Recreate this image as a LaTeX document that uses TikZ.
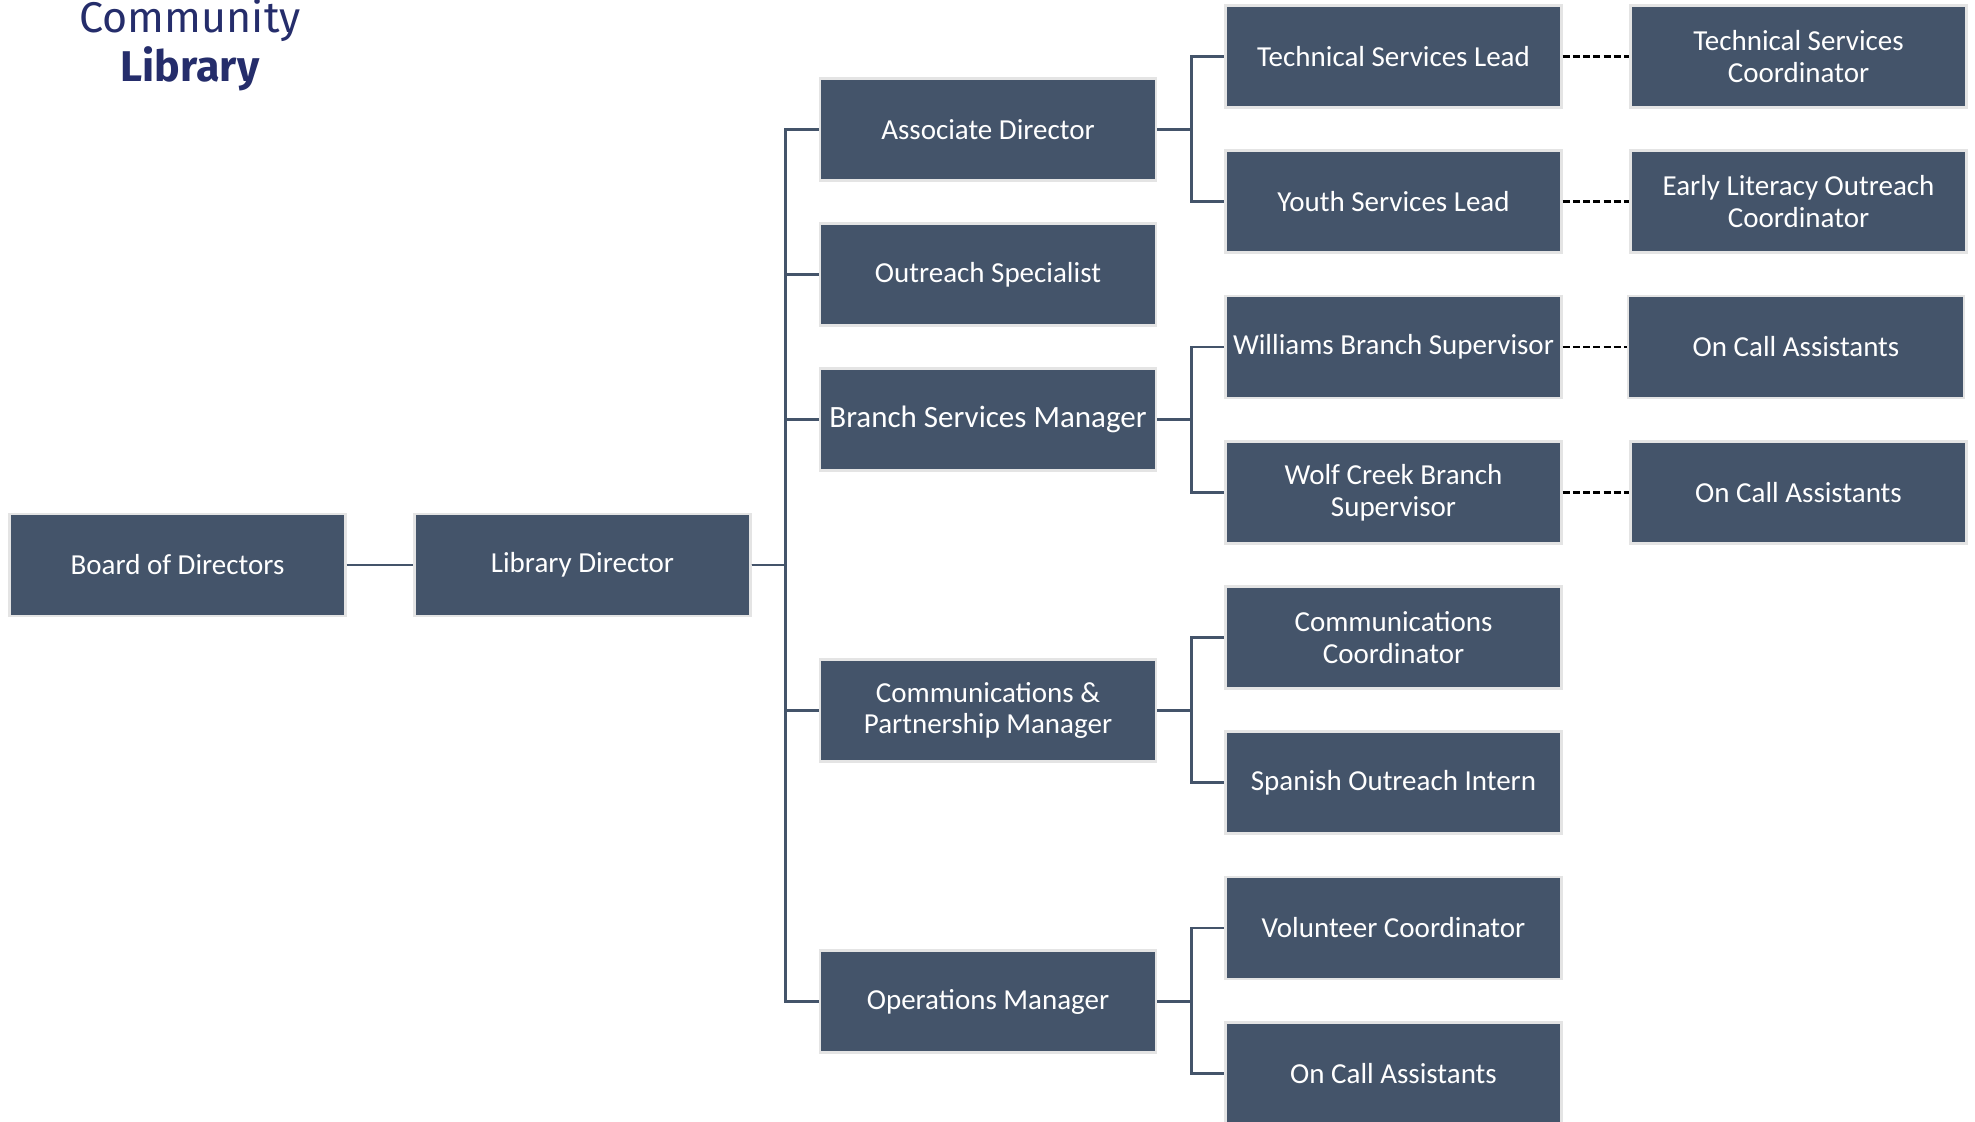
\documentclass[tikz,border=0pt]{standalone}
\usepackage{fontspec}
\setmainfont{Carlito}
\newfontfamily\logofont{Fira Sans}
\usepackage{tikz}
\usetikzlibrary{calc}
\usepackage{xcolor}
\definecolor{boxslate}{HTML}{44546A}
\definecolor{boxrim}{HTML}{E4E4E4}
\definecolor{logonavy}{HTML}{252D6B}

\begin{document}
\begin{tikzpicture}[x=0.5pt,y=-0.5pt]
  \tikzset{orgbox/.style={rectangle,fill=boxslate,draw=boxrim,line width=1.2pt,minimum width=168pt,minimum height=51pt,inner sep=1pt,align=center,text=white,font=\fontsize{14.5}{15.8}\selectfont}}
  \tikzset{orgline/.style={draw=boxslate,line width=1.4pt}}
  \tikzset{dashlink/.style={draw=black,line width=1.3pt,dash pattern=on 3.5pt off 1.6pt}}
  \tikzset{logotext/.style={text=logonavy,inner sep=0pt,anchor=base,font=\logofont\fontsize{21.5}{24}\selectfont}}
  \useasboundingbox[fill=white] (0,0) rectangle (1975,1122);
  \node[logotext] (lg1) at (190,33) {Community};
  \node[logotext,font=\logofont\bfseries\fontsize{21.5}{24}\selectfont] (lg2) at (190,82) {Library};
  \node[orgbox] (bod) at (177.5,565) {Board of Directors};
  \node[orgbox] (ld) at (582.5,565) {Library Director};
  \node[orgbox] (ad) at (988,129.5) {Associate Director};
  \node[orgbox] (os) at (988,274.5) {Outreach Specialist};
  \node[orgbox,font=\fontsize{15.5}{17}\selectfont] (bsm) at (988,419.5) {Branch Services Manager};
  \node[orgbox] (cpm) at (988,710.5) {Communications \&\\Partnership Manager};
  \node[orgbox] (om) at (988,1001.5) {Operations Manager};
  \node[orgbox] (tsl) at (1393.5,56.5) {Technical Services Lead};
  \node[orgbox] (ysl) at (1393.5,201.5) {Youth Services Lead};
  \node[orgbox] (wbs) at (1393.5,347) {Williams Branch Supervisor};
  \node[orgbox] (wcb) at (1393.5,492.5) {Wolf Creek Branch\\Supervisor};
  \node[orgbox] (cc) at (1393.5,637.5) {Communications\\Coordinator};
  \node[orgbox] (soi) at (1393.5,782.5) {Spanish Outreach Intern};
  \node[orgbox] (vc) at (1393.5,928) {Volunteer Coordinator};
  \node[orgbox] (oca3) at (1393.5,1073.5) {On Call Assistants};
  \node[orgbox] (tsc) at (1798.5,56.5) {Technical Services\\Coordinator};
  \node[orgbox] (elo) at (1798.5,201.5) {Early Literacy Outreach\\Coordinator};
  \node[orgbox] (oca1) at (1796,347) {On Call Assistants};
  \node[orgbox] (oca2) at (1798.5,492.5) {On Call Assistants};
  \draw[orgline] (bod) -- (ld);
  \draw[orgline] (ld.east) -- ++(34,0) |- (ad.west);
  \draw[orgline] (ld.east) -- ++(34,0) |- (os.west);
  \draw[orgline] (ld.east) -- ++(34,0) |- (bsm.west);
  \draw[orgline] (ld.east) -- ++(34,0) |- (cpm.west);
  \draw[orgline] (ld.east) -- ++(34,0) |- (om.west);
  \draw[orgline] (ad.east) -- ++(34,0) |- (tsl.west);
  \draw[orgline] (ad.east) -- ++(34,0) |- (ysl.west);
  \draw[orgline] (bsm.east) -- ++(34,0) |- (wbs.west);
  \draw[orgline] (bsm.east) -- ++(34,0) |- (wcb.west);
  \draw[orgline] (cpm.east) -- ++(34,0) |- (cc.west);
  \draw[orgline] (cpm.east) -- ++(34,0) |- (soi.west);
  \draw[orgline] (om.east) -- ++(34,0) |- (vc.west);
  \draw[orgline] (om.east) -- ++(34,0) |- (oca3.west);
  \draw[dashlink] (tsl) -- (tsc);
  \draw[dashlink] (ysl) -- (elo);
  \draw[dashlink] (wbs) -- (oca1);
  \draw[dashlink] (wcb) -- (oca2);
\end{tikzpicture}
\end{document}
